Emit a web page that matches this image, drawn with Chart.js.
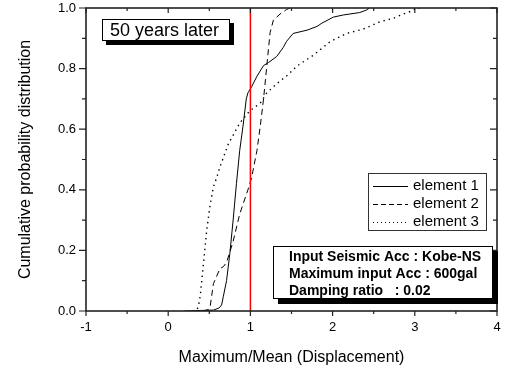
<!DOCTYPE html>
<html>
<head>
<meta charset="utf-8">
<script src="https://cdn.jsdelivr.net/npm/chart.js@4/dist/chart.umd.min.js"></script>
<style>
html,body{margin:0;padding:0;background:#fff;}
canvas{display:block;}
</style>
</head>
<body>
<canvas id="c" width="509" height="371"></canvas>
<script>
// ---- data ----
const seriesNames = ["element 1", "element 2", "element 3"];
const e1x = [0.2, 0.55, 0.62, 0.65, 0.67, 0.71, 0.75, 0.79, 0.83, 0.87, 0.91, 0.95, 0.97, 1.015, 1.08, 1.16, 1.22, 1.32, 1.40, 1.44, 1.52, 1.69, 1.81, 1.87, 2.01, 2.13, 2.33, 2.41, 2.45];
const e1y = [0, 0.003, 0.01, 0.02, 0.047, 0.10, 0.19, 0.30, 0.42, 0.53, 0.61, 0.70, 0.72, 0.74, 0.775, 0.81, 0.82, 0.84, 0.87, 0.89, 0.916, 0.927, 0.939, 0.95, 0.97, 0.977, 0.985, 0.993, 1.0];
const e2x = [0.3, 0.45, 0.49, 0.51, 0.55, 0.63, 0.67, 0.71, 0.79, 0.87, 0.97, 1.015, 1.08, 1.12, 1.16, 1.20, 1.24, 1.28, 1.36, 1.44, 1.48];
const e2y = [0, 0.002, 0.005, 0.014, 0.09, 0.14, 0.146, 0.16, 0.23, 0.32, 0.40, 0.44, 0.53, 0.61, 0.70, 0.81, 0.92, 0.96, 0.98, 0.995, 1.0];
const e3x = [0.3, 0.35, 0.37, 0.39, 0.43, 0.47, 0.51, 0.55, 0.59, 0.63, 0.73, 0.87, 0.99, 1.12, 1.20, 1.32, 1.46, 1.56, 1.77, 1.97, 2.17, 2.37, 2.58, 2.74, 2.86, 2.96, 3.02, 3.1];
const e3y = [0, 0.003, 0.02, 0.05, 0.16, 0.27, 0.35, 0.41, 0.44, 0.476, 0.55, 0.62, 0.66, 0.686, 0.72, 0.75, 0.78, 0.807, 0.845, 0.889, 0.916, 0.93, 0.955, 0.966, 0.98, 0.99, 1.0, 1.0];
const refLineX = 1;
const xMin = -1, xMax = 4, yMin = 0, yMax = 1;
const xTitle = "Maximum/Mean (Displacement)";
const yTitle = "Cumulative probability distribution";
const boxLabel = "50 years later";
const noteLines = ["Input Seismic Acc : Kobe-NS", "Maximum input Acc : 600gal", "Damping ratio   : 0.02"];

const FONT = "'Liberation Sans', Arial, Helvetica, sans-serif";
const toPts = (xs, ys) => xs.map((x, i) => ({x: x, y: ys[i]}));
const dashes = [[], [6, 4], [1.4, 4]];
const widths = [1, 1, 1.4];

const overlay = {
  id: 'overlay',
  afterDatasetsDraw(chart) {
    const ctx = chart.ctx, a = chart.chartArea;
    const xs = chart.scales.x, ys = chart.scales.y;
    ctx.save();
    // red reference line
    const rx = xs.getPixelForValue(refLineX);
    ctx.strokeStyle = '#ff0000'; ctx.lineWidth = 1.5;
    ctx.beginPath(); ctx.moveTo(rx, a.top); ctx.lineTo(rx, a.bottom); ctx.stroke();
    // frame
    ctx.strokeStyle = '#222'; ctx.lineWidth = 1.6;
    ctx.strokeRect(a.left, a.top, a.right - a.left, a.bottom - a.top);
    // ticks
    ctx.lineWidth = 1.2;
    ctx.beginPath();
    for (let v = xMin; v <= xMax + 1e-9; v += 0.5) {
      const px = xs.getPixelForValue(v);
      const major = Math.abs(v - Math.round(v)) < 1e-6;
      const L = major ? 5 : 3;
      ctx.moveTo(px, a.bottom); ctx.lineTo(px, a.bottom + L);
      ctx.moveTo(px, a.top); ctx.lineTo(px, a.top + L);
    }
    for (let k = 0; k <= 10; k++) {
      const v = k / 10;
      const py = ys.getPixelForValue(v);
      const major = k % 2 === 0;
      const L = major ? 7 : 4;
      ctx.moveTo(a.left, py); ctx.lineTo(a.left - L, py);
      ctx.moveTo(a.right, py); ctx.lineTo(a.right - L, py);
    }
    ctx.stroke();

    // "50 years later" box
    ctx.fillStyle = '#000';
    ctx.fillRect(106, 23, 128, 22);
    ctx.fillStyle = '#fff';
    ctx.fillRect(102, 19, 128, 22);
    ctx.strokeStyle = '#000'; ctx.lineWidth = 1;
    ctx.strokeRect(102.5, 19.5, 127, 21);
    ctx.fillStyle = '#000';
    ctx.font = '18px ' + FONT;
    ctx.textBaseline = 'middle'; ctx.textAlign = 'left';
    ctx.fillText(boxLabel, 110, 31);

    // legend
    ctx.fillStyle = '#fff';
    ctx.fillRect(368, 173, 118, 58);
    ctx.strokeStyle = '#333'; ctx.lineWidth = 1;
    ctx.strokeRect(368.5, 173.5, 118, 57);
    const ly = [186, 204, 222];
    ctx.font = '15px ' + FONT;
    for (let i = 0; i < 3; i++) {
      ctx.strokeStyle = '#000'; ctx.lineWidth = 1;
      ctx.setLineDash(i === 0 ? [] : (i === 1 ? [5, 3] : [1, 3]));
      ctx.beginPath(); ctx.moveTo(373, ly[i] + 0.5); ctx.lineTo(408, ly[i] + 0.5); ctx.stroke();
      ctx.setLineDash([]);
      ctx.fillStyle = '#000';
      ctx.fillText(seriesNames[i], 413, ly[i]);
    }

    // note box
    ctx.fillStyle = '#000';
    ctx.fillRect(278, 251, 220, 53);
    ctx.fillStyle = '#fff';
    ctx.fillRect(273, 246, 220, 53);
    ctx.strokeStyle = '#000'; ctx.lineWidth = 1;
    ctx.strokeRect(273.5, 246.5, 219, 52);
    ctx.fillStyle = '#000';
    ctx.font = 'bold 14px ' + FONT;
    const ny = [257, 274, 291];
    noteLines.forEach((t, i) => ctx.fillText(t, 289, ny[i]));
    ctx.restore();
  }
};

new Chart(document.getElementById('c'), {
  type: 'line',
  data: {
    datasets: [
      {label: seriesNames[0], data: toPts(e1x, e1y)},
      {label: seriesNames[1], data: toPts(e2x, e2y)},
      {label: seriesNames[2], data: toPts(e3x, e3y)}
    ].map((d, i) => Object.assign(d, {
      borderColor: '#000', borderWidth: widths[i], borderDash: dashes[i],
      pointRadius: 0, tension: 0, fill: false
    }))
  },
  options: {
    responsive: false,
    animation: false,
    events: [],
    layout: {padding: {left: 0, right: 12, top: 8, bottom: 0}},
    plugins: {legend: {display: false}, tooltip: {enabled: false}},
    scales: {
      x: {
        type: 'linear', min: xMin, max: xMax,
        grid: {display: true, drawOnChartArea: false, drawTicks: true, tickLength: 9, tickColor: 'rgba(0,0,0,0)', color: 'rgba(0,0,0,0)'},
        border: {display: false},
        ticks: {stepSize: 1, padding: 0, color: '#000', font: {family: FONT, size: 13},
          callback: v => String(v)},
        title: {display: true, text: xTitle, color: '#000', font: {family: FONT, size: 16},
          padding: {top: 4, bottom: 4}},
        afterFit: s => { s.height = 60; }
      },
      y: {
        type: 'linear', min: yMin, max: yMax,
        grid: {display: true, drawOnChartArea: false, drawTicks: true, tickLength: 10, tickColor: 'rgba(0,0,0,0)', color: 'rgba(0,0,0,0)'},
        border: {display: false},
        ticks: {stepSize: 0.2, padding: 0, color: '#000', font: {family: FONT, size: 13},
          callback: v => Number(v).toFixed(1)},
        title: {display: true, text: yTitle, color: '#000', font: {family: FONT, size: 16},
          padding: {top: 16, bottom: 16}},
        afterFit: s => { s.width = 86; }
      }
    }
  },
  plugins: [overlay]
});
</script>
</body>
</html>
